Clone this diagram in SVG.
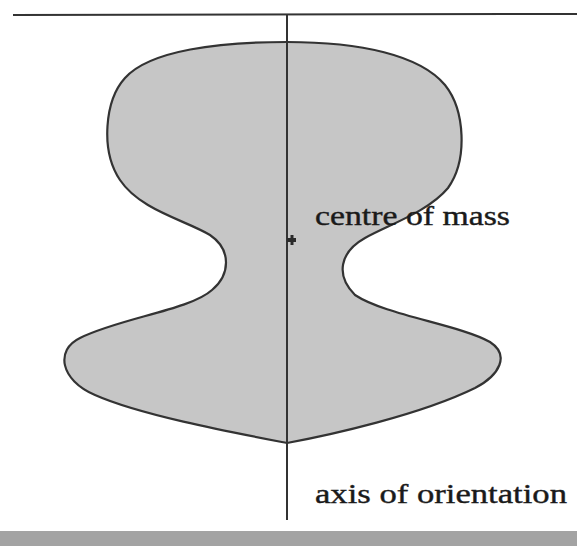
<svg xmlns="http://www.w3.org/2000/svg" width="577" height="546" viewBox="0 0 577 546">
<style>
.lbl{font-family:"Liberation Serif","Times New Roman",serif;font-size:28px;fill:#1a1a1a;stroke:#1a1a1a;stroke-width:0.4}
.ln{stroke:#333;stroke-width:2;fill:none}
.mk{stroke:#2a2a2a;fill:none}
</style>
<rect x="0" y="0" width="577" height="546" fill="#ffffff"/>
<g id="body">
<path d="M 287,42 C 360,42 420,55 445,85 C 465,110 468,160 448,188 C 428,212 388,225 365,238 C 340,252 335,275 355,295 C 385,315 460,325 490,342 C 510,355 500,375 475,388 C 420,415 330,435 287,443 C 230,432 140,415 95,395 C 60,380 55,350 80,338 C 120,318 190,310 212,290 C 230,275 232,250 210,235 C 185,220 140,210 120,180 C 100,150 105,100 125,78 C 150,50 220,42 287,42 Z" fill="#c6c6c6" stroke="#333" stroke-width="2.2"/>
</g>
<g id="connectors">
<line class="ln" x1="13" y1="15" x2="577" y2="14"/>
<line class="ln" x1="287" y1="14" x2="287" y2="520"/>
</g>
<g id="centre-marker">
<line class="mk" x1="287" y1="240" x2="296" y2="240" style="stroke-width:4"/>
<line class="mk" x1="292" y1="235" x2="292" y2="245" style="stroke-width:3"/>
</g>
<g id="label-centre">
<text class="lbl" x="315" y="225" textLength="195" lengthAdjust="spacingAndGlyphs">centre of mass</text>
</g>
<g id="label-axis">
<text class="lbl" x="315" y="503" textLength="252" lengthAdjust="spacingAndGlyphs">axis of orientation</text>
</g>
<rect id="bottom-band" x="0" y="531" width="577" height="15" fill="#a3a3a3"/>
</svg>
